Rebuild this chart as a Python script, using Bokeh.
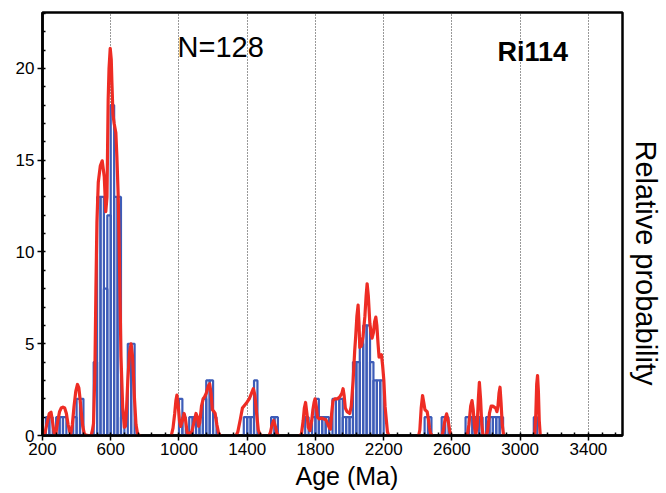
import math
from bokeh.plotting import figure
from bokeh.models import FixedTicker, Label, Range1d, Title
from bokeh.embed import file_html
from bokeh.resources import INLINE

# ---------------- data ----------------
BIN_WIDTH = 20  # Ma
bin_left = [220, 240, 280, 300, 320, 380, 400, 420,
            500, 520, 540, 560, 580, 600, 620, 640, 660, 700, 720,
            1000, 1020, 1060, 1080, 1100, 1120, 1140, 1160, 1180, 1200,
            1380, 1400, 1420, 1440, 1540, 1560,
            1740, 1780, 1800, 1820, 1840, 1860, 1900, 1920, 1940,
            1960, 1980, 2000, 2020, 2040, 2060, 2080, 2100, 2120, 2140, 2160, 2180,
            2440, 2460, 2540, 2560,
            2680, 2700, 2720, 2740, 2760, 2800, 2820, 2840, 2860, 2880, 3080]
bin_count = [1, 1, 1, 1, 1, 1, 2, 2,
             4, 13, 13, 8, 12, 18, 13, 13, 1, 5, 5,
             2, 1, 1, 1, 1, 1, 2, 3, 3, 1,
             1, 1, 1, 3, 1, 1,
             1, 1, 2, 1, 1, 1, 2, 2, 2,
             1, 1, 1, 4, 4, 5, 6, 6, 4, 3, 3, 3,
             1, 1, 1, 1,
             1, 1, 1, 1, 1, 1, 1, 1, 1, 1, 1]

NAN = float("nan")
pdp_age = [205, 215, 225, 240, 250, 258, 268, 278, 290, 300, 310, 320, 330, 340, 350, 360, 366,
           375, 385, 395, 405, 413, 420, 428, 436, 445, 455, 470, 485, 493, 499, 507, 513, 519,
           527, 539, 550, 562, 571, 578, 585, 590, 597, 603, 607, 613, 620, 630, 636, 644, 652,
           660, 670, 680, 686, 693, 700, 710, 719, 728, 738, 748, 758, 770, NAN,
           955, 965, 975, 982, 988, 995, 1003, 1010, 1020, 1030, 1038, 1048, 1060, 1075, 1090,
           1100, 1108, 1115, 1122, 1132, 1142, 1150, 1160, 1172, 1180, 1188, 1196, 1205, 1212,
           1222, 1232, 1242, NAN,
           1335, 1345, 1360, 1372, 1385, 1398, 1412, 1425, 1436, 1445, 1455, 1465, 1475, 1485, NAN,
           1528, 1537, 1546, 1555, 1565, 1575, 1585, NAN,
           1710, 1718, 1728, 1735, 1742, 1750, 1758, 1768, 1778, 1785, 1792, 1798, 1805, 1812,
           1822, 1835, 1850, 1862, 1873, 1882, 1888, 1895, 1903, 1915, 1930, 1942, 1955, 1962,
           1968, 1975, 1985, 2001, 2010, 2021, 2030, 2036, 2043, 2050, 2055, 2060, 2070, 2079,
           2090, 2097, 2103, 2110, 2119, 2126, 2132, 2140, 2147, 2154, 2160, 2167, 2173, 2180,
           2187, 2194, 2201, 2208, 2216, 2222, 2230, NAN,
           2405, 2412, 2420, 2428, 2435, 2442, 2455, 2462, 2468, 2475, 2485, NAN,
           2542, 2550, 2560, 2569, 2578, 2588, 2596, NAN,
           2690, 2700, 2710, 2718, 2725, 2733, 2740, 2748, 2755, 2761, 2768, 2775, 2782, 2790, NAN,
           2802, 2810, 2820, 2830, 2840, 2848, 2856, 2864, 2870, 2876, 2882, 2888, 2895, 2903, NAN,
           3085, 3092, 3097, 3102, 3107, 3112, 3118]
pdp_prob = [0.0, 0.15, 0.6, 1.2, 1.27, 0.8, 0.15, 0.1, 0.8, 1.3, 1.5, 1.55, 1.5, 1.2, 0.6, 0.2, 0.1,
            0.6, 1.6, 2.4, 2.78, 2.6, 2.0, 1.2, 0.5, 0.1, 0.02, 0.0, 0.0, 0.3, 0.65, 3.4, 7.9, 11.6,
            13.8, 14.7, 14.97, 14.1, 12.2, 13.0, 18.3, 20.0, 21.1, 20.5, 19.2, 17.5, 17.0, 16.5, 15.2, 13.0, 9.0,
            4.3, 1.55, 0.45, 0.5, 1.5, 3.0, 4.5, 5.0, 4.3, 2.2, 0.6, 0.05, 0.0, NAN,
            0.0, 0.4, 1.2, 1.9, 2.2, 1.7, 0.8, 0.5, 0.8, 1.2, 0.9, 0.15, 0.1, 0.2, 0.8,
            1.2, 1.0, 0.5, 0.7, 1.6, 2.0, 2.1, 2.3, 2.7, 2.82, 2.3, 1.4, 1.3, 1.2,
            0.6, 0.15, 0.0, NAN,
            0.0, 0.2, 0.9, 1.5, 1.65, 1.8, 2.0, 2.3, 2.55, 2.2, 1.2, 0.3, 0.05, 0.0, NAN,
            0.0, 0.2, 0.6, 0.82, 0.5, 0.1, 0.0, NAN,
            0.0, 0.1, 0.8, 1.5, 1.8, 1.2, 0.45, 0.27, 0.8, 1.4, 1.8, 2.0, 1.6, 1.0,
            0.9, 0.95, 0.9, 0.85, 0.6, 0.4, 0.35, 1.2, 1.9, 2.0, 2.0, 2.1, 2.3, 2.55,
            2.2, 1.5, 1.3, 1.2, 1.6, 3.0, 4.6, 5.4, 6.5, 7.1, 6.2, 4.8, 4.9, 5.4,
            6.5, 7.6, 8.27, 7.6, 6.1, 5.6, 5.3, 5.6, 6.2, 6.45, 6.0, 5.0, 4.27, 4.3,
            4.4, 3.8, 3.0, 1.6, 0.8, 0.2, 0.0, NAN,
            0.0, 0.3, 1.5, 2.18, 1.8, 1.4, 1.3, 0.9, 0.45, 0.1, 0.0, NAN,
            0.0, 0.3, 0.9, 1.18, 0.8, 0.2, 0.0, NAN,
            0.0, 0.6, 1.6, 1.9, 1.4, 0.4, 0.05, 0.5, 2.0, 2.9, 2.0, 0.6, 0.05, 0.0, NAN,
            0.0, 0.3, 1.2, 1.6, 1.6, 1.55, 1.5, 1.3, 1.6, 2.3, 2.63, 1.8, 0.6, 0.0, NAN,
            0.0, 1.2, 2.8, 3.27, 2.4, 0.8, 0.0]

x_major_ticks = [200, 600, 1000, 1400, 1800, 2200, 2600, 3000, 3400]
x_minor_ticks = list(range(200, 3601, 80))
y_major_ticks = [0, 5, 10, 15, 20]
y_minor_ticks = list(range(0, 24))

sample_label = "N=128"
sample_name = "Ri114"
x_title = "Age (Ma)"
y_title = "Relative probability"

FONT = "Liberation Sans"
BLUE = "#3d5cb8"
RED = "#ee2c24"

bin_right = [b + BIN_WIDTH for b in bin_left]

p = figure(frame_width=580, frame_height=423,
           x_range=Range1d(200, 3600), y_range=Range1d(0, 23.05),
           output_backend="svg", toolbar_location=None,
           min_border_left=42, min_border_top=12, min_border_right=4, min_border_bottom=4,
           background_fill_color="white", border_fill_color="white")

p.outline_line_color = "black"
p.outline_line_width = 2.5

p.xgrid.ticker = FixedTicker(ticks=x_major_ticks[1:])
p.xgrid.grid_line_color = "#333333"
p.xgrid.grid_line_width = 1
p.xgrid.grid_line_dash = "1 2"
p.ygrid.grid_line_color = None

p.quad(left=bin_left, right=bin_right, bottom=0, top=bin_count,
       fill_color=None, line_color=BLUE, line_width=2.2)
p.line(pdp_age, pdp_prob, line_color=RED, line_width=3.2, line_join="round", line_cap="round")

for ax in (p.xaxis, p.yaxis):
    ax.axis_line_color = "black"
    ax.axis_line_width = 2.5
    ax.major_tick_line_color = "black"
    ax.major_tick_line_width = 1.5
    ax.minor_tick_line_color = "black"
    ax.minor_tick_line_width = 1.5
    ax.major_tick_in = 0
    ax.major_tick_out = 5
    ax.minor_tick_in = 3
    ax.minor_tick_out = 0
    ax.major_label_text_font = FONT
    ax.major_label_text_font_size = "17px"
    ax.major_label_text_color = "black"

p.xaxis.ticker = FixedTicker(ticks=x_major_ticks, minor_ticks=x_minor_ticks)
p.yaxis.ticker = FixedTicker(ticks=y_major_ticks, minor_ticks=y_minor_ticks)
p.xaxis.major_label_standoff = 2
p.yaxis.major_label_standoff = 3

p.add_layout(Label(x=135, y=389, x_units="screen", y_units="screen", text=sample_label,
                   text_font=FONT, text_font_size="29px", text_color="black",
                   text_baseline="alphabetic"))
p.add_layout(Label(x=455, y=384, x_units="screen", y_units="screen", text=sample_name,
                   text_font=FONT, text_font_size="27px", text_font_style="bold",
                   text_color="black", text_baseline="alphabetic"))

p.add_layout(Title(text=x_title, align="left", offset=253, standoff=4,
                   text_font=FONT, text_font_size="25px", text_font_style="normal",
                   text_color="black"), "below")
p.add_layout(Title(text=y_title, align="left", offset=128, standoff=15,
                   text_font=FONT, text_font_size="29px", text_font_style="normal",
                   text_color="black"), "right")

open("out.html", "w").write(file_html(p, INLINE))
